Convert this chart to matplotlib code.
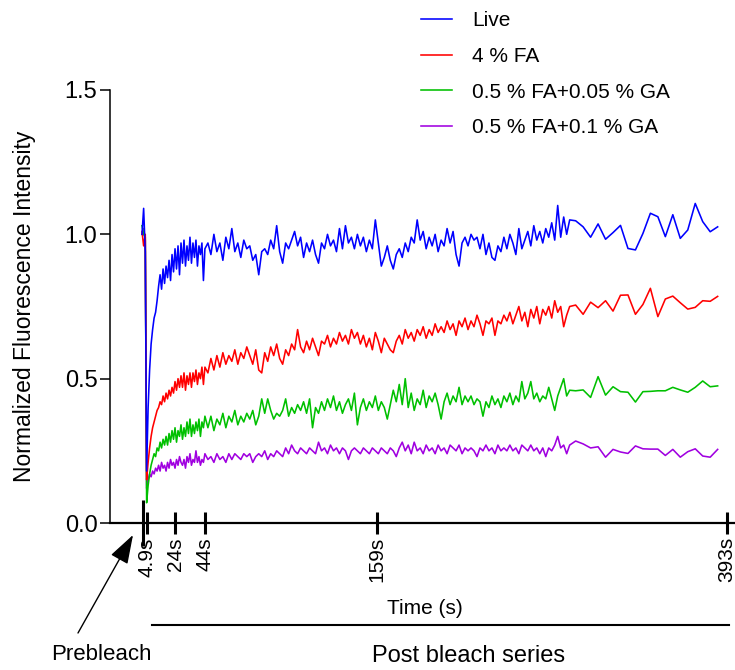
import numpy as np
import matplotlib
matplotlib.use("Agg")
import matplotlib.pyplot as plt
import matplotlib.transforms as mtransforms

plt.rcParams['font.family'] = ['Liberation Sans', 'DejaVu Sans']

# acquisition schedule (s): 3 prebleach frames, then fast / medium / slow post-bleach frames
t_prebleach = [1.8, 2.9, 4.0]
t_fast = np.arange(4.9, 44.0, 1.0)      # 40 frames
t_mid = np.arange(45.9, 288.0, 2.0)     # 122 frames
t_slow = np.arange(291.9, 387.0, 5.0)   # 20 frames
time = np.concatenate([t_prebleach, t_fast, t_mid, t_slow])

labels = ["Live", "4 % FA", "0.5 % FA+0.05 % GA", "0.5 % FA+0.1 % GA"]
colors = ["#0000FF", "#FF0000", "#00C000", "#A000E0"]

live = [
    1.00, 1.09, 0.94,
    # fast
    0.18, 0.40, 0.53, 0.62, 0.67, 0.71, 0.73, 0.77, 0.82, 0.86,
    0.81, 0.88, 0.83, 0.89, 0.85, 0.91, 0.84, 0.93, 0.87, 0.95,
    0.88, 0.96, 0.86, 0.97, 0.90, 0.98, 0.89, 0.96, 0.91, 0.99,
    0.90, 0.97, 0.92, 0.98, 0.89, 0.96, 0.93, 0.97, 0.84, 0.95,
    # mid
    0.97, 0.93, 1.00, 0.94, 0.97, 0.91, 0.99, 0.95, 1.02, 0.94,
    0.97, 0.92, 0.98, 0.95, 0.96, 0.91, 0.93, 0.86, 0.94, 0.95,
    0.93, 0.98, 0.95, 1.03, 0.94, 0.90, 0.97, 0.95, 0.98, 1.01,
    0.96, 0.99, 0.92, 0.97, 0.94, 0.98, 0.93, 0.90, 0.97, 0.95,
    1.00, 0.96, 0.98, 0.94, 1.02, 0.95, 1.03, 0.97, 0.99, 0.95,
    1.00, 0.96, 0.99, 0.94, 0.98, 0.95, 1.05, 0.97, 0.89, 0.92,
    0.96, 0.91, 0.88, 0.93, 0.95, 0.92, 0.97, 0.94, 0.99, 0.97,
    1.05, 0.98, 1.01, 0.95, 0.99, 0.96, 1.00, 0.94, 0.98, 0.96,
    1.02, 0.97, 1.01, 0.93, 0.89, 0.97, 0.99, 0.96, 1.00, 0.98,
    0.99, 0.95, 1.00, 0.93, 0.97, 0.92, 0.91, 0.96, 0.94, 0.99,
    0.95, 1.00, 0.97, 0.93, 1.02, 0.95, 0.98, 1.01, 0.96, 1.03,
    0.98, 1.01, 0.97, 1.02, 0.99, 1.04, 0.98, 1.10, 0.99, 1.06,
    1.00, 1.05,
    # slow
    1.047, 1.026, 0.990, 1.036, 0.983, 1.006, 1.031, 0.951, 0.946, 1.003,
    1.073, 1.061, 0.992, 1.068, 0.986, 1.015, 1.107, 1.044, 1.009, 1.026,
]

fa4 = [
    1.01, 0.96, 1.00,
    0.15, 0.21, 0.26, 0.30, 0.33, 0.35, 0.37, 0.39, 0.40, 0.42,
    0.41, 0.44, 0.42, 0.45, 0.43, 0.46, 0.44, 0.47, 0.45, 0.49,
    0.46, 0.50, 0.47, 0.51, 0.47, 0.52, 0.46, 0.51, 0.48, 0.52,
    0.47, 0.52, 0.49, 0.53, 0.48, 0.52, 0.50, 0.54, 0.48, 0.54,
    0.52, 0.57, 0.53, 0.58, 0.54, 0.59, 0.55, 0.58, 0.56, 0.60,
    0.55, 0.59, 0.57, 0.61, 0.58, 0.55, 0.60, 0.53, 0.52, 0.59,
    0.56, 0.61, 0.58, 0.62, 0.57, 0.55, 0.60, 0.58, 0.62, 0.60,
    0.67, 0.61, 0.59, 0.63, 0.60, 0.64, 0.61, 0.58, 0.63, 0.62,
    0.65, 0.61, 0.64, 0.62, 0.66, 0.63, 0.65, 0.62, 0.67, 0.64,
    0.66, 0.62, 0.65, 0.61, 0.64, 0.60, 0.66, 0.63, 0.59, 0.64,
    0.62, 0.60, 0.59, 0.63, 0.65, 0.62, 0.67, 0.64, 0.66, 0.63,
    0.67, 0.65, 0.68, 0.64, 0.67, 0.65, 0.69, 0.66, 0.68, 0.66,
    0.70, 0.67, 0.69, 0.65, 0.70, 0.68, 0.71, 0.67, 0.70, 0.68,
    0.72, 0.69, 0.65, 0.70, 0.69, 0.71, 0.65, 0.70, 0.69, 0.72,
    0.70, 0.73, 0.69, 0.72, 0.75, 0.70, 0.73, 0.68, 0.74, 0.71,
    0.75, 0.69, 0.74, 0.72, 0.75, 0.71, 0.77, 0.73, 0.75, 0.68,
    0.72, 0.75,
    0.755, 0.723, 0.765, 0.746, 0.770, 0.734, 0.789, 0.790, 0.723, 0.757,
    0.813, 0.715, 0.776, 0.786, 0.763, 0.741, 0.747, 0.770, 0.768, 0.785,
]

fa_ga005 = [
    1.03, 1.00, 0.99,
    0.07, 0.13, 0.17, 0.20, 0.22, 0.24, 0.23, 0.26, 0.25, 0.28,
    0.26, 0.29, 0.27, 0.30, 0.27, 0.31, 0.28, 0.32, 0.29, 0.33,
    0.28, 0.32, 0.30, 0.34, 0.29, 0.33, 0.30, 0.35, 0.31, 0.36,
    0.30, 0.34, 0.31, 0.35, 0.32, 0.36, 0.30, 0.35, 0.33, 0.37,
    0.33, 0.37, 0.32, 0.36, 0.34, 0.38, 0.33, 0.37, 0.35, 0.39,
    0.34, 0.37, 0.35, 0.38, 0.36, 0.39, 0.34, 0.37, 0.43, 0.38,
    0.43, 0.39, 0.36, 0.38, 0.37, 0.39, 0.43, 0.37, 0.40, 0.38,
    0.41, 0.39, 0.42, 0.38, 0.43, 0.33, 0.40, 0.38, 0.42, 0.39,
    0.43, 0.40, 0.44, 0.39, 0.42, 0.38, 0.41, 0.43, 0.39, 0.45,
    0.34, 0.40, 0.43, 0.39, 0.42, 0.40, 0.44, 0.39, 0.42, 0.40,
    0.36, 0.41, 0.46, 0.42, 0.48, 0.41, 0.50, 0.40, 0.45, 0.39,
    0.43, 0.41, 0.46, 0.40, 0.44, 0.42, 0.45, 0.41, 0.36, 0.42,
    0.45, 0.41, 0.44, 0.42, 0.47, 0.41, 0.44, 0.42, 0.44, 0.41,
    0.43, 0.42, 0.37, 0.42, 0.40, 0.44, 0.41, 0.43, 0.40, 0.44,
    0.42, 0.45, 0.41, 0.44, 0.42, 0.49, 0.43, 0.45, 0.49, 0.43,
    0.45, 0.42, 0.44, 0.43, 0.47, 0.43, 0.39, 0.44, 0.47, 0.50,
    0.44, 0.46,
    0.458, 0.461, 0.435, 0.507, 0.443, 0.472, 0.455, 0.453, 0.419, 0.455,
    0.456, 0.458, 0.458, 0.470, 0.461, 0.453, 0.470, 0.492, 0.472, 0.475,
]

fa_ga01 = [
    1.00, 1.02, 0.98,
    0.12, 0.15, 0.17, 0.16, 0.18, 0.17, 0.19, 0.18, 0.20, 0.18,
    0.21, 0.19, 0.20, 0.18, 0.21, 0.19, 0.22, 0.20, 0.21, 0.19,
    0.22, 0.20, 0.23, 0.21, 0.20, 0.22, 0.19, 0.23, 0.21, 0.24,
    0.20, 0.22, 0.21, 0.25, 0.21, 0.23, 0.20, 0.22, 0.21, 0.24,
    0.22, 0.23, 0.21, 0.24, 0.22, 0.23, 0.21, 0.24, 0.22, 0.24,
    0.23, 0.22, 0.24, 0.23, 0.24, 0.21, 0.23, 0.24, 0.23, 0.25,
    0.22, 0.24, 0.23, 0.25, 0.24, 0.23, 0.26, 0.24, 0.27, 0.25,
    0.24, 0.26, 0.25, 0.24, 0.26, 0.25, 0.24, 0.28, 0.25, 0.26,
    0.24, 0.27, 0.25, 0.26, 0.24, 0.26, 0.25, 0.22, 0.25, 0.26,
    0.25, 0.24, 0.26, 0.25, 0.24, 0.26, 0.25, 0.24, 0.26, 0.25,
    0.24, 0.26, 0.25, 0.23, 0.26, 0.28, 0.25, 0.27, 0.24, 0.28,
    0.25, 0.26, 0.24, 0.27, 0.25, 0.26, 0.24, 0.27, 0.25, 0.26,
    0.24, 0.27, 0.26, 0.25, 0.27, 0.24, 0.26, 0.25, 0.26, 0.25,
    0.23, 0.26, 0.25, 0.27, 0.25, 0.26, 0.24, 0.27, 0.25, 0.26,
    0.25, 0.27, 0.25, 0.26, 0.24, 0.27, 0.26, 0.25, 0.27, 0.25,
    0.26, 0.24, 0.26, 0.23, 0.26, 0.25, 0.27, 0.30, 0.26, 0.27,
    0.24, 0.27,
    0.284, 0.274, 0.260, 0.264, 0.228, 0.255, 0.246, 0.241, 0.267, 0.257,
    0.256, 0.256, 0.234, 0.255, 0.228, 0.247, 0.257, 0.232, 0.228, 0.255,
]

tick_times = [4.9, 24, 44, 159, 393]
tick_labels = ["4.9s", "24s", "44s", "159s", "393s"]
prebleach_tick = 2.5

fig = plt.figure(figsize=(7.35, 6.7), dpi=100)
ax = fig.add_axes([110 / 735, 1 - 523 / 670, 625 / 735, 433 / 670])

series = [live, fa4, fa_ga005, fa_ga01]
handles = [None] * 4
for i in [3, 2, 1, 0]:
    handles[i], = ax.plot(time, series[i], color=colors[i], lw=1.15, label=labels[i])

ax.set_xlim(-19.6, 398.5)
ax.set_ylim(0, 1.5)
ax.set_yticks([0, 0.5, 1.0, 1.5], ["0.0", "0.5", "1.0", "1.5"])
ax.set_xticks(tick_times, tick_labels, rotation=90)
ax.set_xticks([prebleach_tick], minor=True)

for s in ["top", "right"]:
    ax.spines[s].set_visible(False)
ax.spines["left"].set_linewidth(1.1)
ax.spines["bottom"].set_linewidth(1.6)

ax.tick_params(axis="y", direction="out", length=7, width=1.1, labelsize=17, pad=2)
ax.tick_params(axis="x", which="major", direction="inout", length=16.5, width=2.2,
               labelsize=15, pad=2)
ax.tick_params(axis="x", which="minor", direction="inout", length=33, width=2.2)

ax.set_ylabel("Normalized Fluorescence Intensity", fontsize=16.5, va="center")
ax.yaxis.set_label_coords(-0.136, 0.5)

fig.legend(handles, labels, loc="upper left", bbox_to_anchor=(0.573, 0.983),
           frameon=False, fontsize=15, handlelength=1.5, handletextpad=0.95,
           labelspacing=0.8, borderpad=0, borderaxespad=0)

# x-axis annotations
fig.text(425 / 735, 1 - 608 / 670, "Time (s)", ha="center", va="center", fontsize=15)
trans = mtransforms.blended_transform_factory(ax.transData, ax.transAxes)
ax.plot([8.5, 394.5], [-0.2356, -0.2356], color="k", lw=1.5, transform=trans, clip_on=False)
fig.text(469 / 735, 1 - 656 / 670, "Post bleach series", ha="center", va="center", fontsize=17)
fig.text(101 / 735, 1 - 655 / 670, "Prebleach", ha="center", va="center", fontsize=16)
ax.annotate("", xy=(133 / 735, 1 - 535 / 670), xytext=(78 / 735, 1 - 633 / 670),
            xycoords="figure fraction", textcoords="figure fraction",
            arrowprops=dict(arrowstyle="-|>,head_length=0.9,head_width=0.3",
                            color="k", lw=1, mutation_scale=20, shrinkA=0, shrinkB=0))

fig.savefig("out.png", dpi=100)
